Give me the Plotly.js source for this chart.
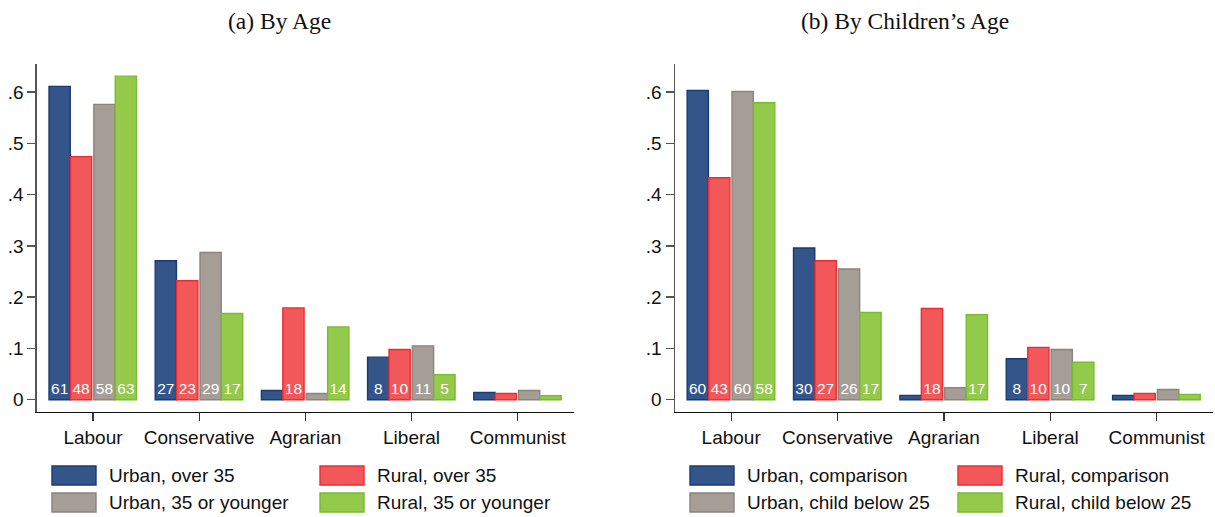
<!DOCTYPE html>
<html>
<head>
<meta charset="utf-8">
<script src="https://cdn.plot.ly/plotly-3.0.1.min.js"></script>
<style>html,body{margin:0;padding:0;background:#fff;}#chart{width:1215px;height:517px;}</style>
</head>
<body>
<div id="chart"></div>
<script>
// ---- data ----
const categories = ['Labour', 'Conservative', 'Agrarian', 'Liberal', 'Communist'];

// (a) By Age
const ageUrbanOver35  = [0.611, 0.271, 0.018, 0.083, 0.014];
const ageRuralOver35  = [0.474, 0.232, 0.179, 0.098, 0.012];
const ageUrbanYounger = [0.576, 0.287, 0.012, 0.105, 0.018];
const ageRuralYounger = [0.631, 0.168, 0.142, 0.049, 0.008];
const ageLabelsUrbanOver35  = ['61', '27', '', '8', ''];
const ageLabelsRuralOver35  = ['48', '23', '18', '10', ''];
const ageLabelsUrbanYounger = ['58', '29', '', '11', ''];
const ageLabelsRuralYounger = ['63', '17', '14', '5', ''];
const ageNames = ['Urban, over 35', 'Rural, over 35', 'Urban, 35 or younger', 'Rural, 35 or younger'];

// (b) By Children's Age
const kidUrbanComparison = [0.603, 0.296, 0.0085, 0.080, 0.0085];
const kidRuralComparison = [0.433, 0.271, 0.178, 0.102, 0.0124];
const kidUrbanChild      = [0.601, 0.255, 0.0234, 0.098, 0.020];
const kidRuralChild      = [0.579, 0.170, 0.166, 0.073, 0.0104];
const kidLabelsUrbanComparison = ['60', '30', '', '8', ''];
const kidLabelsRuralComparison = ['43', '27', '18', '10', ''];
const kidLabelsUrbanChild      = ['60', '26', '', '10', ''];
const kidLabelsRuralChild      = ['58', '17', '17', '7', ''];
const kidNames = ['Urban, comparison', 'Rural, comparison', 'Urban, child below 25', 'Rural, child below 25'];

const yTickVals = [0, 0.1, 0.2, 0.3, 0.4, 0.5, 0.6];
const yTickText = ['0', '.1', '.2', '.3', '.4', '.5', '.6'];
const panelTitles = ['(a) By Age', '(b) By Children\u2019s Age'];

// ---- styles ----
const fills   = ['#345589', '#f2575a', '#a59e97', '#94ca4b'];
const borders = ['#1a3a73', '#ec2c33', '#8b847d', '#78bc2c'];
const offsets = [-0.414, -0.212, 0.008, 0.21];
const barWidth = 0.2;
const SANS = '"Liberation Sans", Arial, Helvetica, sans-serif';
const SERIF = '"Liberation Serif", "Times New Roman", serif';
const W = 1215, H = 517;

function makeBars(seriesList, labelList, names, xa, ya) {
  return seriesList.map((vals, i) => ({
    type: 'bar',
    x: categories,
    y: vals,
    text: labelList[i],
    name: names[i],
    xaxis: xa, yaxis: ya,
    offset: offsets[i],
    width: barWidth,
    textposition: 'inside',
    insidetextanchor: 'start',
    textangle: 0,
    constraintext: 'none',
    textfont: {family: SANS, size: 15.5, color: '#ffffff'},
    marker: {color: fills[i], line: {color: borders[i], width: 1.4}},
    hoverinfo: 'x+y+name',
    showlegend: false
  }));
}

const traces = [
  ...makeBars([ageUrbanOver35, ageRuralOver35, ageUrbanYounger, ageRuralYounger],
              [ageLabelsUrbanOver35, ageLabelsRuralOver35, ageLabelsUrbanYounger, ageLabelsRuralYounger],
              ageNames, 'x', 'y'),
  ...makeBars([kidUrbanComparison, kidRuralComparison, kidUrbanChild, kidRuralChild],
              [kidLabelsUrbanComparison, kidLabelsRuralComparison, kidLabelsUrbanChild, kidLabelsRuralChild],
              kidNames, 'x2', 'y2')
];

const yDomain = [(H - 411.7) / H, (H - 64) / H];
function xAxis(domainPx, anchor) {
  return {
    domain: [domainPx[0] / W, domainPx[1] / W],
    anchor: anchor,
    type: 'category',
    range: [-0.53, 4.53],
    showline: true, linecolor: '#111', linewidth: 1.3,
    ticks: 'outside', ticklen: 8, tickcolor: '#333', tickwidth: 1.3,
    showgrid: false, zeroline: false, fixedrange: true,
    tickfont: {family: SANS, size: 19, color: '#111'},
    automargin: false
  };
}
function yAxis(anchor) {
  return {
    domain: yDomain,
    anchor: anchor,
    range: [-0.0234, 0.6547],
    tickvals: yTickVals, ticktext: yTickText,
    showline: true, linecolor: '#555', linewidth: 1.3,
    ticks: 'outside', ticklen: 8, tickcolor: '#555', tickwidth: 1.3,
    showgrid: false, zeroline: false, fixedrange: true,
    tickfont: {family: SANS, size: 19, color: '#111'},
    automargin: false
  };
}

// manual legends (2 x 2 grid under each panel)
const shapes = [];
const annotations = [];
function addLegend(names, x0) {
  const colX = [x0, x0 + 268];
  const rowY = [[466, 485], [493, 512]];
  names.forEach((nm, i) => {
    const c = i % 2, r = Math.floor(i / 2);
    const bx0 = colX[c], bx1 = colX[c] + 44;
    shapes.push({
      type: 'rect', xref: 'paper', yref: 'paper',
      x0: bx0 / W, x1: bx1 / W, y0: 1 - rowY[r][1] / H, y1: 1 - rowY[r][0] / H,
      fillcolor: fills[i], line: {color: borders[i], width: 1.4}
    });
    annotations.push({
      xref: 'paper', yref: 'paper', x: (bx1 + 11) / W, y: 1 - (rowY[r][0] + rowY[r][1]) / 2 / H,
      xanchor: 'left', yanchor: 'middle', showarrow: false, text: nm,
      font: {family: SANS, size: 19, color: '#111'}
    });
  });
}
addLegend(ageNames, 52);
addLegend(kidNames, 690);

annotations.push({
  xref: 'paper', yref: 'paper', x: 279.6 / W, y: 1 - 21 / H, xanchor: 'center', yanchor: 'middle',
  showarrow: false, text: panelTitles[0], font: {family: SERIF, size: 23.5, color: '#111'}
});
annotations.push({
  xref: 'paper', yref: 'paper', x: 905 / W, y: 1 - 21 / H, xanchor: 'center', yanchor: 'middle',
  showarrow: false, text: panelTitles[1], font: {family: SERIF, size: 23.5, color: '#111'}
});

const layout = {
  width: W, height: H,
  margin: {l: 0, r: 0, t: 0, b: 0, pad: 0},
  paper_bgcolor: '#ffffff', plot_bgcolor: '#ffffff',
  barmode: 'group',
  showlegend: false,
  xaxis: xAxis([36.7, 574], 'y'),
  yaxis: yAxis('x'),
  xaxis2: xAxis([674.8, 1213], 'y2'),
  yaxis2: yAxis('x2'),
  shapes: shapes,
  annotations: annotations,
  font: {family: SANS, color: '#111'}
};

Plotly.newPlot('chart', traces, layout, {displayModeBar: false, staticPlot: true});
</script>
</body>
</html>
